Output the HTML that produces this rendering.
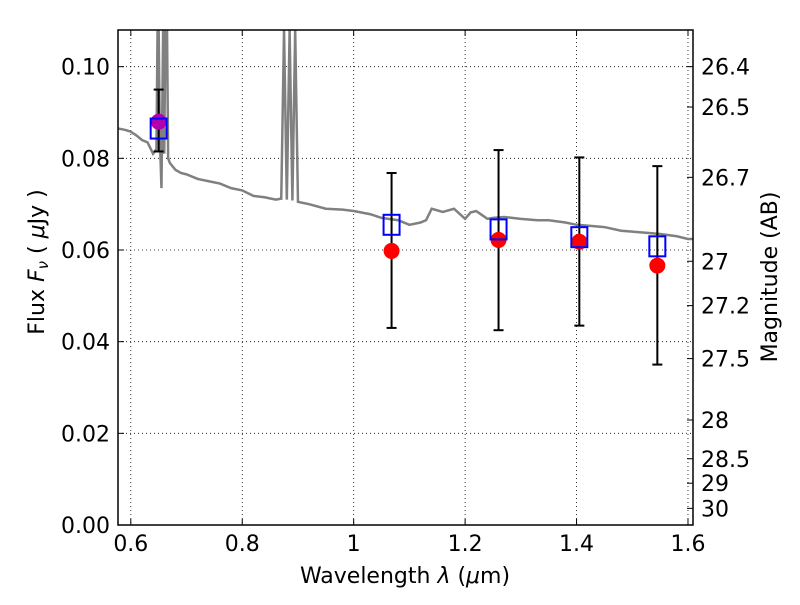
<!DOCTYPE html>
<html><head><meta charset="utf-8"><style>
body{margin:0;background:#fff}
svg text{font-family:"DejaVu Sans","Liberation Sans",sans-serif;fill:#000}
</style></head><body>
<svg id="c" width="800" height="600" xmlns="http://www.w3.org/2000/svg"></svg>
<script>
const specWave=[0.578,0.59,0.60,0.61,0.62,0.63,0.64,0.646,0.648,0.650,0.652,0.655,0.658,0.66,0.662,0.665,0.667,0.67,0.68,0.69,0.70,0.72,0.74,0.76,0.78,0.80,0.82,0.84,0.86,0.87,0.875,0.88,0.885,0.89,0.895,0.90,0.92,0.95,0.98,1.0,1.03,1.05,1.08,1.1,1.12,1.13,1.14,1.16,1.18,1.2,1.21,1.22,1.24,1.25,1.27,1.3,1.33,1.35,1.38,1.4,1.43,1.45,1.48,1.5,1.53,1.55,1.58,1.6,1.61];
const specFlux=[0.0865,0.0862,0.0858,0.085,0.084,0.0835,0.081,0.082,0.108,0.108,0.085,0.0735,0.108,0.081,0.108,0.108,0.08,0.079,0.0775,0.0768,0.0765,0.0755,0.075,0.0745,0.0735,0.073,0.0718,0.0715,0.071,0.0712,0.108,0.071,0.108,0.0708,0.108,0.0705,0.070,0.069,0.0688,0.0685,0.0678,0.067,0.0665,0.0655,0.066,0.0665,0.069,0.0683,0.069,0.0668,0.0682,0.0685,0.0668,0.067,0.0672,0.0668,0.0665,0.0665,0.066,0.0655,0.0652,0.065,0.0642,0.064,0.0637,0.0635,0.063,0.0624,0.0624];
const bandWave=[0.65,1.068,1.26,1.405,1.545];
const obsFlux=[0.088,0.0598,0.0622,0.0618,0.0566];
const errLow=[0.0815,0.043,0.0425,0.0435,0.035];
const errHigh=[0.095,0.0768,0.0818,0.0802,0.0783];
const modelFlux=[0.0865,0.0655,0.0645,0.0628,0.0608];
const xTicks=[0.6,0.8,1.0,1.2,1.4,1.6];
const xTickLabels=["0.6","0.8","1","1.2","1.4","1.6"];
const yTicks=[0,0.02,0.04,0.06,0.08,0.10];
const yTickLabels=["0.00","0.02","0.04","0.06","0.08","0.10"];
const magTicks=[26.4,26.5,26.7,27,27.2,27.5,28,28.5,29,30];
const magTickLabels=["26.4","26.5","26.7","27","27.2","27.5","28","28.5","29","30"];

const L=118,R=693,T=30,B=525,X0=0.577,X1=1.609,Y0=0,Y1=0.108;
const sx=v=>L+(v-X0)/(X1-X0)*(R-L);
const sy=v=>B-(v-Y0)/(Y1-Y0)*(B-T);
const svg=document.getElementById('c');
const NS='http://www.w3.org/2000/svg';
const FS=22;
function mk(tag,attrs,parent){const e=document.createElementNS(NS,tag);for(const k in attrs)e.setAttribute(k,attrs[k]);(parent||svg).appendChild(e);return e;}
const clip=mk('clipPath',{id:'cp'});mk('rect',{x:L,y:T,width:R-L,height:B-T},clip);
xTicks.forEach((v,i)=>{
 const g=mk('line',{x1:sx(v),x2:sx(v),y1:T,y2:B,stroke:'#000','stroke-dasharray':'1,3','stroke-width':0.8});
 
 
 mk('line',{x1:sx(v),x2:sx(v),y1:B,y2:B-6,stroke:'#000'});
 mk('line',{x1:sx(v),x2:sx(v),y1:T,y2:T+6,stroke:'#000'});
 const t=mk('text',{x:sx(v),y:B+26,'text-anchor':'middle','font-size':FS});t.textContent=xTickLabels[i];
 
 
});
yTicks.forEach((v,i)=>{
 const g=mk('line',{x1:L,x2:R,y1:sy(v),y2:sy(v),stroke:'#000','stroke-dasharray':'1,3','stroke-width':0.8});
 
 
 mk('line',{x1:L,x2:L+6,y1:sy(v),y2:sy(v),stroke:'#000'});
 const t=mk('text',{x:L-8,y:sy(v)+8,'text-anchor':'end','font-size':FS});t.textContent=yTickLabels[i];
 
 
});
magTicks.forEach((m,i)=>{
 const f=Math.pow(10,(23.9-m)/2.5);const y=sy(f);
 mk('line',{x1:R,x2:R-6,y1:y,y2:y,stroke:'#000'});
 const t=mk('text',{x:R+8,y:y+8,'font-size':FS});t.textContent=magTickLabels[i];
 
 
});
const g=mk('g',{'clip-path':'url(#cp)'});
const sp=mk('polyline',{points:specWave.map((w,i)=>sx(w)+','+sy(specFlux[i])).join(' '),fill:'none',stroke:'#808080','stroke-width':2.5},g);


bandWave.forEach((w,i)=>{
 const x=sx(w);
 const e=mk('line',{x1:x,x2:x,y1:sy(errLow[i]),y2:sy(errHigh[i]),stroke:'#000','stroke-width':2});
 
 
 mk('line',{x1:x-5,x2:x+5,y1:sy(errLow[i]),y2:sy(errLow[i]),stroke:'#000','stroke-width':2});
 mk('line',{x1:x-5,x2:x+5,y1:sy(errHigh[i]),y2:sy(errHigh[i]),stroke:'#000','stroke-width':2});
});
bandWave.forEach((w,i)=>{
 const c=mk('circle',{cx:sx(w),cy:sy(obsFlux[i]),r:8,fill:i==0?'#b000b0':'#ff0000'});
 
 
});
bandWave.forEach((w,i)=>{
 const s=mk('rect',{x:sx(w)-8,y:sy(modelFlux[i])-10,width:16,height:20,fill:'none',stroke:'#0000ff','stroke-width':2});
 
 
});
const fr=mk('rect',{x:L,y:T,width:R-L,height:B-T,fill:'none',stroke:'#000','stroke-width':1.5});


let t=mk('text',{x:405,y:583,'text-anchor':'middle','font-size':FS});t.innerHTML='Wavelength  <tspan font-style="italic">λ</tspan> (<tspan font-style="italic">μ</tspan>m)';


t=mk('text',{x:0,y:0,'text-anchor':'middle','font-size':FS,transform:'translate(44,262) rotate(-90)'});t.innerHTML='Flux  <tspan font-style="italic">F</tspan><tspan font-style="italic" font-size="15" dy="4">ν</tspan><tspan dy="-4">  ( </tspan><tspan font-style="italic">μ</tspan>Jy )';


t=mk('text',{x:0,y:0,'text-anchor':'middle','font-size':FS,transform:'translate(777,277) rotate(-90)'});t.textContent='Magnitude (AB)';


</script>
</body></html>
